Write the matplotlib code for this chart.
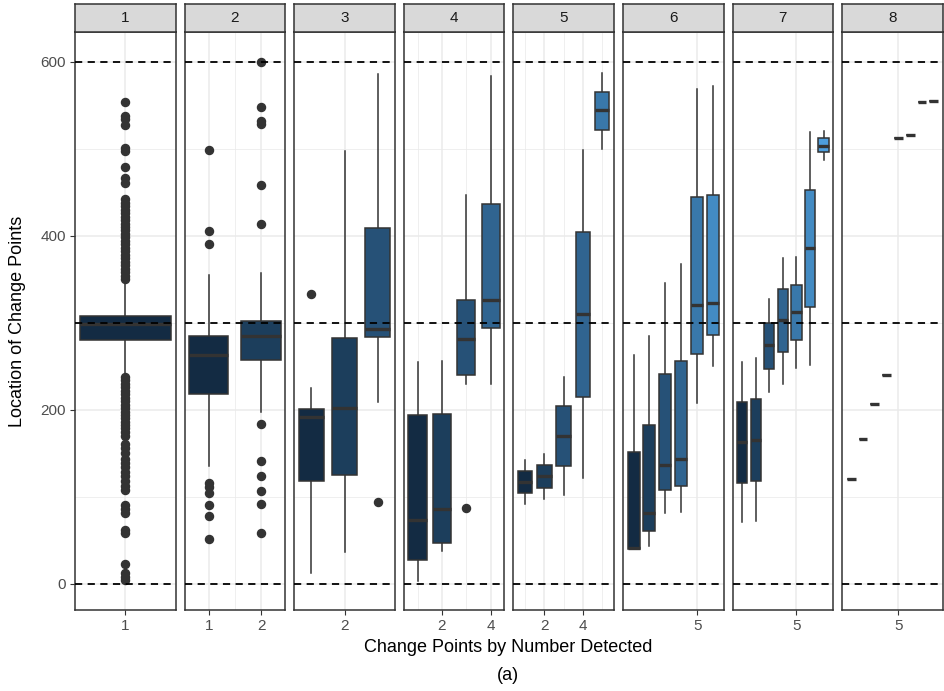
import numpy as np
import matplotlib.pyplot as plt
from matplotlib.colors import LinearSegmentedColormap

plt.rcParams['font.family'] = ['Liberation Sans', 'DejaVu Sans']

# box stats per facet: (q1, median, q3, lower whisker, upper whisker)
stats_1 = [(280, 298, 308, 242, 348)]
stats_2 = [(218, 263, 285, 135, 355), (257, 285, 302, 197, 357)]
stats_3 = [(118, 192, 201, 13, 225), (125, 202, 283, 37, 497), (284, 293, 409, 209, 586)]
stats_4 = [(27, 73, 194, 3, 255), (47, 86, 195, 38, 256),
           (240, 281, 326, 230, 447), (294, 326, 436, 230, 583)]
stats_5 = [(104, 117, 130, 92, 142), (110, 124, 137, 97, 149), (135, 170, 204, 102, 238),
           (215, 310, 404, 122, 498), (521, 544, 565, 500, 587)]
stats_6 = [(40, 41, 152, 40, 263), (61, 81, 183, 43, 285), (108, 136, 241, 81, 346),
           (112, 143, 256, 83, 368), (264, 320, 444, 208, 568), (286, 323, 447, 250, 572)]
stats_7 = [(116, 163, 209, 71, 255), (118, 165, 212, 72, 259), (247, 274, 300, 221, 327),
           (266, 303, 339, 230, 374), (280, 312, 343, 248, 375), (318, 386, 452, 251, 519),
           (496, 503, 512, 487, 520)]
stats_8 = [(120, 120, 120, 120, 120), (167, 167, 167, 167, 167), (207, 207, 207, 207, 207),
           (240, 240, 240, 240, 240), (512, 512, 512, 512, 512), (516, 516, 516, 516, 516),
           (554, 554, 554, 554, 554), (555, 555, 555, 555, 555)]

# outliers per facet, one list per box
fliers_1 = [[554, 538, 534, 527, 501, 497, 479, 466, 460, 442, 438, 434, 430, 426, 422,
             418, 414, 410, 406, 402, 398, 394, 390, 386, 382, 378, 374, 370, 366, 362,
             358, 354, 350,
             238, 234, 230, 226, 222, 218, 214, 210, 206, 202, 198, 194, 190, 186, 183,
             179, 175, 170, 161, 156, 150, 144, 139, 134, 128, 124, 118, 113, 108,
             91, 86, 82, 62, 58, 23, 12, 8, 5]]
fliers_2 = [[498, 405, 391, 116, 111, 104, 91, 78, 51],
            [599, 548, 532, 528, 458, 413, 184, 141, 124, 107, 92, 59]]
fliers_3 = [[333], [], [94]]
fliers_4 = [[], [], [87], []]
fliers_5 = [[]] * 5
fliers_6 = [[]] * 6
fliers_7 = [[]] * 7
fliers_8 = [[]] * 8

all_stats = [stats_1, stats_2, stats_3, stats_4, stats_5, stats_6, stats_7, stats_8]
all_fliers = [fliers_1, fliers_2, fliers_3, fliers_4, fliers_5, fliers_6, fliers_7, fliers_8]
facet_labels = ['1', '2', '3', '4', '5', '6', '7', '8']
x_major = [[1], [1, 2], [2], [2, 4], [2, 4], [5], [5], [5]]
x_minor = [[], [1.5], [], [1, 3], [1, 3, 5], [], [], []]
ref_lines = [0, 300, 600]

cmap = LinearSegmentedColormap.from_list('gg', ['#132B43', '#56B1F7'])
dark = '#333333'

W, H = 944, 691
fig = plt.figure(figsize=(W / 100, H / 100), dpi=100)

left0, pw, gap = 75, 100.6, 9.0
ptop, pbot, stop = 32, 610, 4

for i in range(8):
    k = i + 1
    x0 = left0 + i * (pw + gap)
    ax = fig.add_axes([x0 / W, 1 - pbot / H, pw / W, (pbot - ptop) / H])
    stats = []
    for j, (q1, med, q3, lo, hi) in enumerate(all_stats[i]):
        stats.append(dict(q1=q1, med=med, q3=q3, whislo=lo, whishi=hi,
                          fliers=all_fliers[i][j]))
    bp = ax.bxp(stats, positions=range(1, k + 1), widths=0.75, patch_artist=True,
                showcaps=False, manage_ticks=False,
                boxprops=dict(edgecolor=dark, linewidth=1.1),
                medianprops=dict(color=dark, linewidth=2.4, solid_capstyle='butt'),
                whiskerprops=dict(color=dark, linewidth=1.1),
                flierprops=dict(marker='o', markerfacecolor=dark, markeredgecolor=dark,
                                markersize=5.8))
    for j, b in enumerate(bp['boxes']):
        b.set_facecolor(cmap(j / 7))
        b.set_zorder(3)
    for m in bp['medians']:
        m.set_zorder(4)
    for hv in ref_lines:
        ax.axhline(hv, color='black', linewidth=1.3, linestyle=(0, (4, 3)), zorder=5)

    span = k - 0.25
    ax.set_xlim(0.625 - 0.05 * span, k + 0.375 + 0.05 * span)
    ax.set_ylim(-30, 634)
    ax.set_xticks(x_major[i])
    ax.set_xticklabels([str(v) for v in x_major[i]])
    ax.set_xticks(x_minor[i], minor=True)
    ax.set_yticks([0, 200, 400, 600])
    ax.set_yticks([100, 300, 500], minor=True)
    ax.grid(True, which='major', color='#EBEBEB', linewidth=1.1, zorder=0)
    ax.grid(True, which='minor', color='#EBEBEB', linewidth=0.55, zorder=0)
    ax.set_axisbelow(True)
    ax.tick_params(which='minor', length=0)
    ax.tick_params(which='major', length=3.5, color=dark, labelsize=11,
                   labelcolor='#4D4D4D', pad=3)
    for s in ax.spines.values():
        s.set_color(dark)
        s.set_linewidth(1.1)
    if i > 0:
        ax.tick_params(axis='y', left=False, labelleft=False)

    sax = fig.add_axes([x0 / W, 1 - ptop / H, pw / W, (ptop - stop) / H])
    sax.set_facecolor('#D9D9D9')
    sax.set_xticks([])
    sax.set_yticks([])
    for s in sax.spines.values():
        s.set_color(dark)
        s.set_linewidth(1.1)
    sax.text(0.5, 0.5, facet_labels[i], ha='center', va='center', fontsize=11,
             color='#1A1A1A', transform=sax.transAxes)

fig.text(18 / W, 1 - 321 / H, 'Location of Change Points', rotation=90,
         ha='center', va='center', fontsize=13)
fig.text(508 / W, 1 - 648 / H, 'Change Points by Number Detected',
         ha='center', va='center', fontsize=13)
fig.text(508 / W, 1 - 676 / H, '(a)', ha='center', va='center', fontsize=13)

fig.savefig('out.png', dpi=100)
